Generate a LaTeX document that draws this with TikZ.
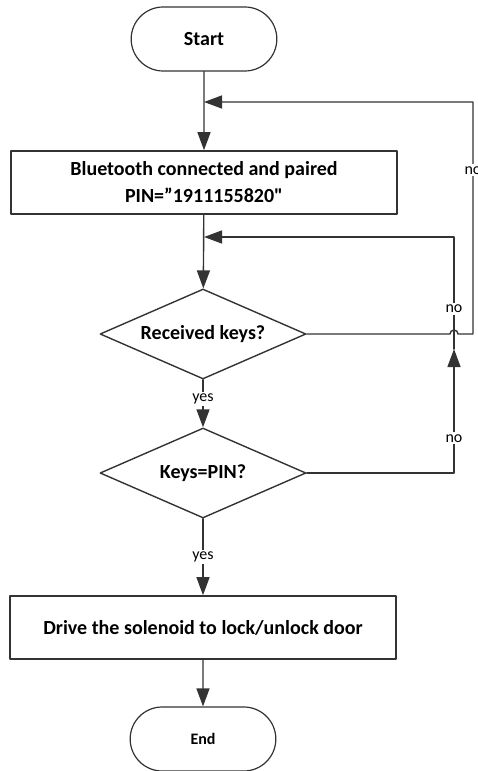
\documentclass[tikz,border=0pt]{standalone}
\usepackage{fontspec}
\setmainfont{Carlito}[Ligatures=TeXOff]
\usetikzlibrary{shapes.geometric,shapes.misc,arrows.meta}

\begin{document}
\begin{tikzpicture}[line cap=round,line join=round,x=0.5pt,y=-0.5pt,
	ln/.style={draw=black!80,line width=0.7pt},
	arr/.style={ln,-{Triangle[length=9pt,width=6.5pt]}},
	term/.style={rounded rectangle,draw=black!80,line width=0.6pt,minimum width=79.5pt,minimum height=32pt,font=\fontsize{10}{12}\selectfont\bfseries},
	proc/.style={rectangle,draw=black!80,line width=0.8pt,minimum width=193pt,minimum height=31.5pt,align=center,inner sep=1pt,font=\fontsize{10}{13.5}\selectfont\bfseries},
	dec/.style={diamond,draw=black!80,line width=0.7pt,aspect=2.29,minimum width=103pt,minimum height=45pt,inner sep=0pt,font=\fontsize{10}{12}\selectfont\bfseries},
	lbl/.style={fill=white,inner sep=1pt,font=\fontsize{8}{9}\selectfont}]
		\useasboundingbox (0,0) rectangle (477,771);
		% boxes
		\node[term] (start) at (204,39) {Start};
		\node[proc] (bt) at (204,182.5) {Bluetooth connected and paired\\PIN=”1911155820"};
		\node[dec] (recv) at (203,334) {Received keys?};
		\node[dec] (keys) at (203,473) {Keys=PIN?};
		\node[proc] (drive) at (203,627.5) {Drive the solenoid to lock/unlock door};
		\node[term,font=\fontsize{8}{10}\selectfont\bfseries] (end) at (203,739) {End};
		% merge points and loop corners
		\coordinate (m1) at (204,102);
		\coordinate (m2) at (204,237);
		\coordinate (jn) at (454,349);
		\coordinate (hop) at (450,334);
		\coordinate (ol) at (473,334);
		% main flow
		\draw[arr] (start) -- (bt);
		\draw[arr] (bt) -- (recv);
		\draw[arr] (recv) -- node[lbl,pos=0.4] (yes1) {yes} (keys);
		\draw[arr] (keys) -- node[lbl] (yes2) {yes} (drive);
		\draw[arr] (drive) -- (end);
		% loops back
		\draw[arr] (keys.east) -| node[lbl,pos=0.64] (no1) {no} (jn);
		\draw[arr] (jn) |- node[lbl,pos=0.18] (no2) {no} (m2);
		\draw[arr] (recv.east) -- (hop) arc[start angle=-180,end angle=0,radius=4] -- (ol) |- node[lbl,pos=0.353] (no3) {no} (m1);
		\end{tikzpicture}
\end{document}
